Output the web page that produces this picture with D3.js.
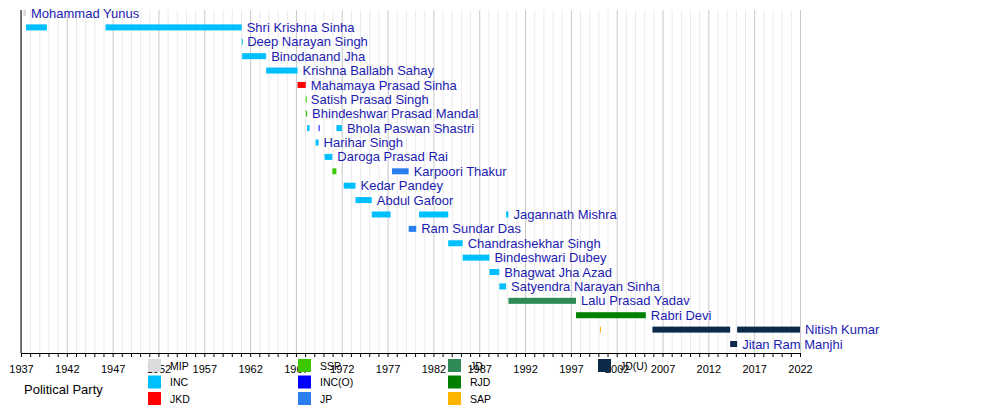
<!DOCTYPE html>
<html>
<head>
<meta charset="utf-8">
<script src="https://cdn.jsdelivr.net/npm/d3@7"></script>
<style>
  body { margin: 0; background: #fff; }
  svg { font-family: "Liberation Sans", Arial, sans-serif; }
</style>
</head>
<body>
<svg id="chart" width="1000" height="405"></svg>
<script>
// party keys and colours, in legend order (filled column by column)
const parties = ['MIP', 'INC', 'JKD', 'SSP', 'INC(O)', 'JP', 'JD', 'RJD', 'SAP', 'JD(U)'];
const partyColors = ['#dcdcdc', '#00bfff', '#ff0000', '#3ec800', '#0000ff', '#2a7ff0', '#2e8b57', '#008000', '#ffb400', '#0b2a4a'];

// one row per chief minister, top to bottom
const ministers = [
  'Mohammad Yunus', 'Shri Krishna Sinha', 'Deep Narayan Singh', 'Binodanand Jha',
  'Krishna Ballabh Sahay', 'Mahamaya Prasad Sinha', 'Satish Prasad Singh',
  'Bhindeshwar Prasad Mandal', 'Bhola Paswan Shastri', 'Harihar Singh',
  'Daroga Prasad Rai', 'Karpoori Thakur', 'Kedar Pandey', 'Abdul Gafoor',
  'Jagannath Mishra', 'Ram Sundar Das', 'Chandrashekhar Singh', 'Bindeshwari Dubey',
  'Bhagwat Jha Azad', 'Satyendra Narayan Sinha', 'Lalu Prasad Yadav', 'Rabri Devi',
  'Nitish Kumar', 'Jitan Ram Manjhi'
];

// terms: [minister, start, end, party]
const terms = [
  ['Mohammad Yunus', '1937-04-01', '1937-07-19', 'MIP'],
  ['Shri Krishna Sinha', '1937-07-20', '1939-10-31', 'INC'],
  ['Shri Krishna Sinha', '1946-03-23', '1961-01-31', 'INC'],
  ['Deep Narayan Singh', '1961-02-01', '1961-02-18', 'INC'],
  ['Binodanand Jha', '1961-02-18', '1963-10-02', 'INC'],
  ['Krishna Ballabh Sahay', '1963-10-02', '1967-03-05', 'INC'],
  ['Mahamaya Prasad Sinha', '1967-03-05', '1968-01-28', 'JKD'],
  ['Satish Prasad Singh', '1968-01-28', '1968-02-01', 'SSP'],
  ['Bhindeshwar Prasad Mandal', '1968-02-01', '1968-03-22', 'SSP'],
  ['Bhola Paswan Shastri', '1968-03-22', '1968-06-29', 'INC'],
  ['Bhola Paswan Shastri', '1969-06-22', '1969-07-04', 'INC(O)'],
  ['Bhola Paswan Shastri', '1971-06-02', '1972-01-09', 'INC'],
  ['Harihar Singh', '1969-02-26', '1969-06-22', 'INC'],
  ['Daroga Prasad Rai', '1970-02-16', '1970-12-22', 'INC'],
  ['Karpoori Thakur', '1970-12-22', '1971-06-02', 'SSP'],
  ['Karpoori Thakur', '1977-06-24', '1979-04-21', 'JP'],
  ['Kedar Pandey', '1972-03-19', '1973-07-02', 'INC'],
  ['Abdul Gafoor', '1973-07-02', '1975-04-11', 'INC'],
  ['Jagannath Mishra', '1975-04-11', '1977-04-30', 'INC'],
  ['Jagannath Mishra', '1980-06-08', '1983-08-14', 'INC'],
  ['Jagannath Mishra', '1989-12-06', '1990-03-10', 'INC'],
  ['Ram Sundar Das', '1979-04-21', '1980-02-17', 'JP'],
  ['Chandrashekhar Singh', '1983-08-14', '1985-03-12', 'INC'],
  ['Bindeshwari Dubey', '1985-03-12', '1988-02-13', 'INC'],
  ['Bhagwat Jha Azad', '1988-02-14', '1989-03-10', 'INC'],
  ['Satyendra Narayan Sinha', '1989-03-11', '1989-12-06', 'INC'],
  ['Lalu Prasad Yadav', '1990-03-10', '1997-07-25', 'JD'],
  ['Rabri Devi', '1997-07-25', '2005-03-06', 'RJD'],
  ['Nitish Kumar', '2000-03-03', '2000-03-10', 'SAP'],
  ['Nitish Kumar', '2005-11-24', '2014-05-20', 'JD(U)'],
  ['Nitish Kumar', '2015-02-22', '2022-01-01', 'JD(U)'],
  ['Jitan Ram Manjhi', '2014-05-20', '2015-02-22', 'JD(U)']
];

const startYear = 1937, endYear = 2022;

const svg = d3.select('#chart');
const parse = d3.timeParse('%Y-%m-%d');
const plotTop = 10, plotBottom = 353;

const x = d3.scaleTime()
  .domain([new Date(startYear, 0, 1), new Date(endYear, 0, 1)])
  .range([21, 800]);
const y = d3.scalePoint().domain(ministers).range([13, 344]);
const color = d3.scaleOrdinal().domain(parties).range(partyColors);

// year grid
const years = d3.timeYear.range(new Date(startYear, 0, 1), new Date(endYear + 1, 0, 1));
svg.append('g').selectAll('line')
  .data(years)
  .enter()
  .append('line')
    .attr('x1', d => x(d) + 0.5).attr('x2', d => x(d) + 0.5)
    .attr('y1', plotTop).attr('y2', plotBottom)
    .attr('stroke', d => (d.getFullYear() - startYear) % 5 === 0 ? '#c8c8c8' : '#ebebeb')
    .attr('stroke-width', 1);

// bars
svg.append('g').selectAll('rect')
  .data(terms)
  .enter()
  .append('rect')
    .attr('x', d => x(parse(d[1])))
    .attr('y', d => y(d[0]) - 3)
    .attr('width', d => Math.max(1, x(parse(d[2])) - x(parse(d[1]))))
    .attr('height', 6)
    .attr('fill', d => color(d[3]));

// name label after each minister's last term
const lastEnd = d3.rollup(terms, v => d3.max(v, d => parse(d[2])), d => d[0]);
svg.append('g').selectAll('text')
  .data(ministers)
  .enter()
  .append('text')
    .attr('x', d => x(lastEnd.get(d)) + 5)
    .attr('y', d => y(d))
    .attr('dy', '0.35em')
    .attr('font-size', 13)
    .attr('fill', '#1c1cb0')
    .text(d => d);

// time axis
const axis = d3.axisBottom(x)
  .ticks(d3.timeYear.every(1))
  .tickSize(4)
  .tickFormat(d => (d.getFullYear() - startYear) % 5 === 0 ? d.getFullYear() : '');
const ax = svg.append('g')
  .attr('transform', `translate(0,${plotBottom})`)
  .call(axis);
ax.select('.domain').attr('stroke', '#000');
ax.selectAll('.tick line').attr('stroke', '#000');
ax.selectAll('.tick text')
  .attr('font-family', '"Liberation Sans", Arial, sans-serif')
  .attr('font-size', 11)
  .attr('fill', '#000')
  .attr('dy', '1.15em');

svg.append('line')
  .attr('x1', 21).attr('x2', 21)
  .attr('y1', plotTop).attr('y2', plotBottom)
  .attr('stroke', '#000');

// legend
svg.append('text')
  .attr('x', 24).attr('y', 394)
  .attr('font-size', 13)
  .attr('fill', '#000')
  .text('Political Party');

const legend = svg.append('g').selectAll('g')
  .data(parties)
  .enter()
  .append('g')
    .attr('transform', (d, i) => `translate(${148 + Math.floor(i / 3) * 150},${359 + (i % 3) * 16.5})`);
legend.append('rect')
  .attr('width', 13).attr('height', 13)
  .attr('fill', d => color(d));
legend.append('text')
  .attr('x', 22).attr('y', 7)
  .attr('dy', '0.35em')
  .attr('font-size', 10.5)
  .attr('fill', '#000')
  .text(d => d);
</script>
</body>
</html>
